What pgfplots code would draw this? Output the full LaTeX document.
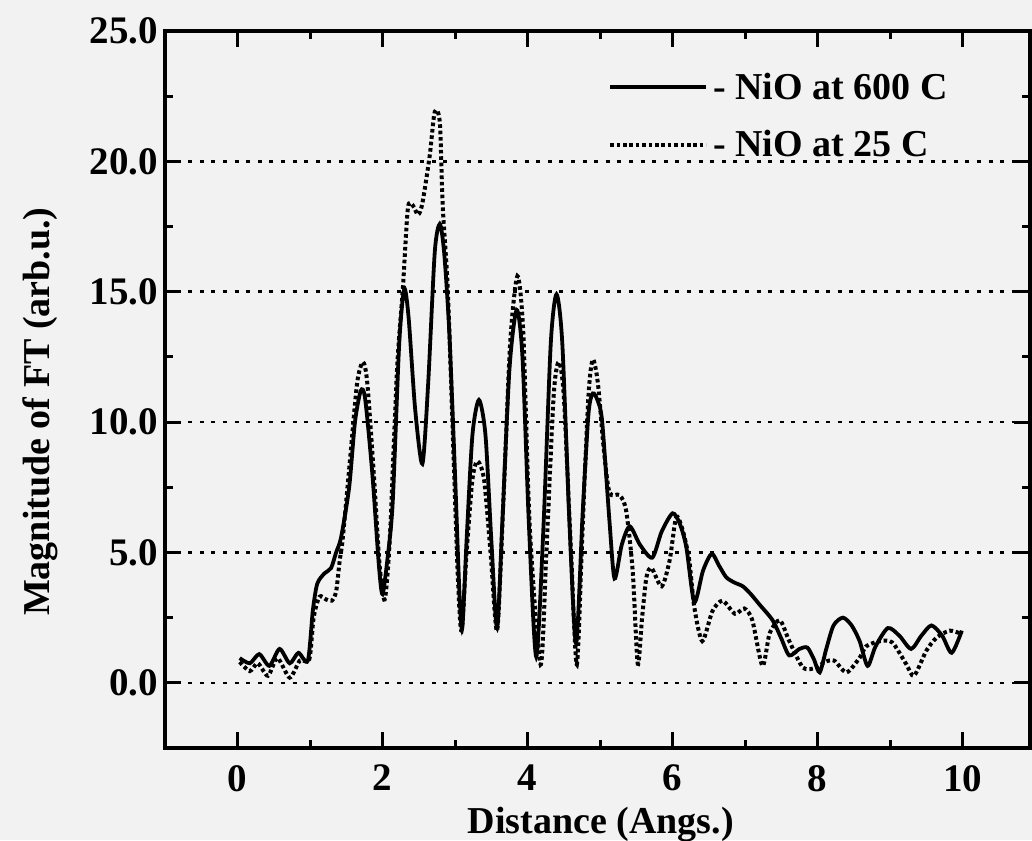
\documentclass[border=0pt]{standalone}
\usepackage{pgfplots}
\pgfplotsset{compat=1.18}
\usepackage{fontspec}
\setmainfont{Liberation Serif}

\pgfplotstableread{
x y
0.03 0.95
0.17 0.75
0.30 1.10
0.44 0.65
0.58 1.30
0.72 0.75
0.84 1.15
0.97 0.85
1.04 2.80
1.10 3.80
1.20 4.20
1.29 4.40
1.36 5.00
1.43 5.60
1.54 7.50
1.62 10.0
1.70 11.2
1.76 10.9
1.86 8.0
1.95 4.5
2.00 3.4
2.07 4.8
2.14 6.9
2.23 13.0
2.30 15.1
2.36 14.0
2.45 10.5
2.55 8.4
2.63 11.5
2.72 16.5
2.79 17.6
2.85 16.5
2.92 13.5
3.00 8.0
3.06 3.5
3.10 2.1
3.16 5.5
3.24 9.5
3.33 10.85
3.42 9.5
3.50 5.5
3.58 2.1
3.65 6.0
3.75 12.0
3.85 14.3
3.93 12.5
4.02 6.0
4.12 1.0
4.22 6.0
4.32 13.0
4.40 14.9
4.48 13.0
4.58 6.0
4.67 1.5
4.76 6.5
4.84 10.3
4.90 11.1
4.97 10.8
5.03 10.0
5.13 6.2
5.20 4.0
5.30 5.3
5.41 6.0
5.55 5.3
5.72 4.8
5.85 5.8
6.00 6.5
6.10 6.1
6.19 5.2
6.30 3.1
6.42 4.3
6.54 4.95
6.64 4.5
6.74 4.05
6.85 3.85
6.97 3.7
7.08 3.4
7.20 3.0
7.38 2.4
7.50 1.7
7.61 1.05
7.75 1.3
7.86 1.35
7.95 0.9
8.03 0.4
8.12 1.3
8.22 2.2
8.35 2.5
8.47 2.2
8.58 1.6
8.69 0.65
8.80 1.4
8.97 2.1
9.13 1.8
9.29 1.3
9.43 1.8
9.57 2.2
9.72 1.8
9.85 1.15
9.99 2.0
}\hot

\pgfplotstableread{
x y
0.03 0.80
0.17 0.45
0.28 0.75
0.42 0.27
0.55 0.95
0.72 0.20
0.86 0.85
0.99 0.90
1.05 2.50
1.13 3.30
1.22 3.20
1.30 3.15
1.36 3.50
1.41 4.70
1.45 5.50
1.55 8.50
1.65 11.5
1.73 12.3
1.79 11.5
1.88 8.0
1.96 4.5
2.03 3.2
2.10 5.5
2.20 12.0
2.28 15.1
2.35 18.2
2.42 18.3
2.49 17.95
2.55 18.4
2.65 20.2
2.72 21.9
2.79 21.5
2.83 18.3
2.90 15.1
2.97 9.5
3.04 4.0
3.09 2.0
3.16 5.0
3.24 7.8
3.31 8.5
3.40 7.8
3.49 5.0
3.58 2.0
3.66 6.5
3.76 13.0
3.86 15.6
3.94 13.5
4.03 6.0
4.18 0.7
4.26 5.0
4.36 11.0
4.43 12.3
4.50 11.0
4.60 5.0
4.68 0.7
4.76 6.0
4.84 11.0
4.90 12.4
4.97 11.5
5.05 9.0
5.13 7.3
5.27 7.2
5.36 6.6
5.45 4.3
5.52 0.73
5.58 2.5
5.64 4.05
5.71 4.4
5.85 3.7
5.96 4.7
6.05 6.35
6.14 5.85
6.23 4.7
6.30 2.9
6.41 1.6
6.55 2.75
6.69 3.15
6.86 2.65
6.99 2.85
7.10 2.4
7.24 0.65
7.34 1.9
7.48 2.4
7.61 1.6
7.80 0.58
7.98 0.58
8.10 0.80
8.23 0.85
8.40 0.40
8.58 0.96
8.67 1.40
8.86 1.60
9.03 1.55
9.22 0.73
9.33 0.27
9.50 1.23
9.64 1.73
9.82 2.00
9.96 1.90
}\cold

\begin{document}
\begin{tikzpicture}
\fill[black!5] (-82.5pt,-46pt) rectangle (433.5pt,374pt);
\begin{axis}[
  scale only axis,
  width=432.5pt, height=358.5pt,
  xmin=-1, xmax=10.93,
  ymin=-2.5, ymax=25,
  xtick={0,2,...,10},
  ytick={0,5,...,25},
  minor x tick num=1,
  minor y tick num=1,
  axis line style={line width=2pt},
  every tick/.style={black, line width=1.5pt},
  major tick length=8pt,
  minor tick length=4pt,
  ymajorgrids,
  major grid style={black, line width=1.3pt, dash pattern=on 2pt off 3.8pt},
  tick label style={font=\fontsize{19.5}{22}\selectfont\bfseries},
  /pgf/number format/assume math mode=true,
  yticklabel style={/pgf/number format/.cd, fixed, fixed zerofill, precision=1},
  xticklabel shift=5pt,
  label style={font=\fontsize{19}{22}\selectfont\bfseries},
  xlabel={Distance (Angs.)},
  ylabel={Magnitude of FT (arb.u.)},
  xlabel style={at={(axis description cs:0.504,-0.1186)}, anchor=base},
  ylabel style={at={(axis description cs:-0.133,0.469)}, anchor=base},
  legend style={at={(axis description cs:0.505,0.955)}, anchor=north west,
    draw=none, fill=none, font=\fontsize{19}{22}\selectfont\bfseries,
    row sep=9pt, nodes={inner sep=2.5pt}},
  legend cell align=left,
  legend image code/.code={\draw[#1] (0pt,0pt) -- (48pt,0pt);},
]
\addplot[black, line width=1.9pt, smooth, tension=0.45] table {\hot};
\addlegendentry{- NiO at 600 C}
\addplot[black, line width=2pt, dash pattern=on 1.8pt off 1.4pt, smooth, tension=0.45] table {\cold};
\addlegendentry{- NiO at 25 C}
\end{axis}
\pgfresetboundingbox
\path (-82.5pt,-46pt) rectangle (433.5pt,374pt);
\end{tikzpicture}
\end{document}
